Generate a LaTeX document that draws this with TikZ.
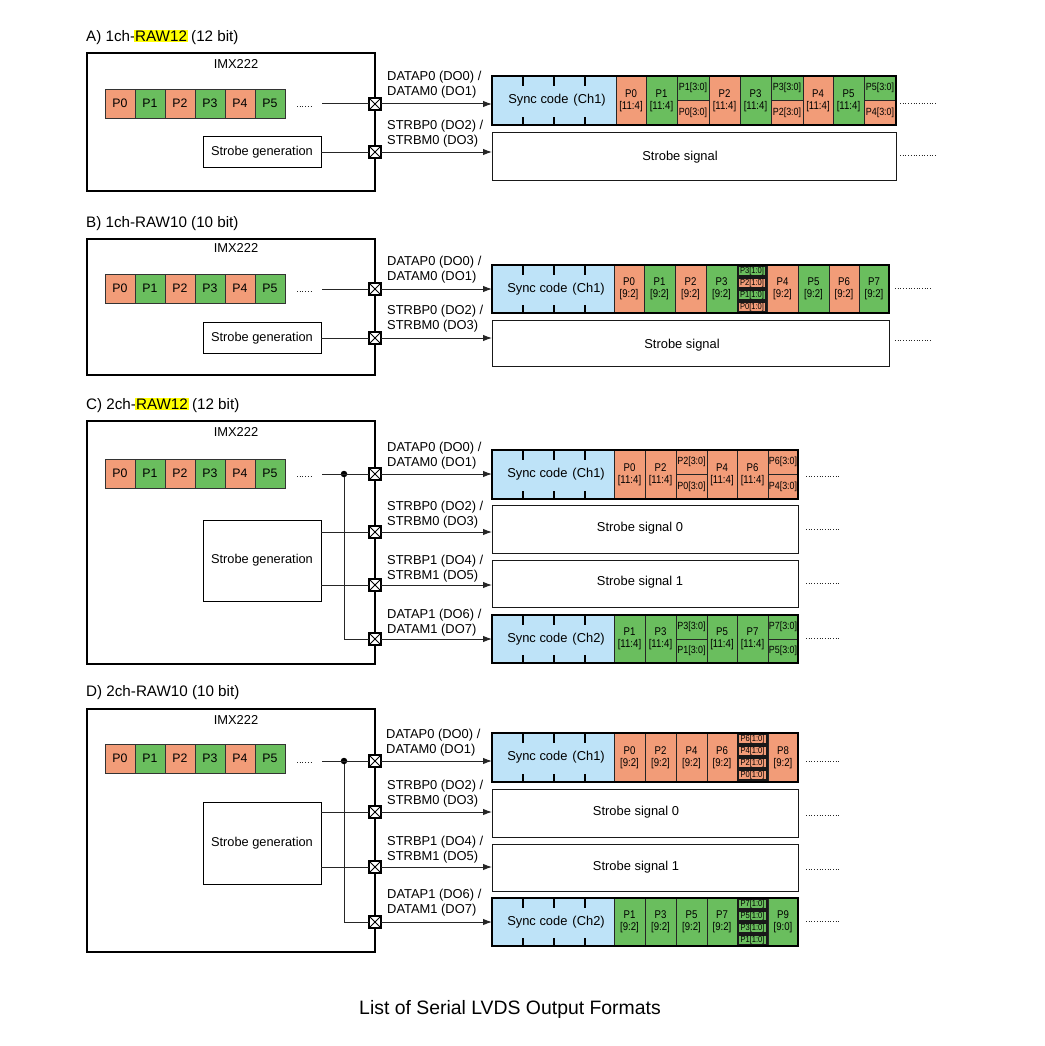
\documentclass[tikz,border=0pt]{standalone}
\usepackage{fontspec}
\setmainfont{Liberation Sans}
\newfontfamily\narf[FakeStretch=0.86]{Liberation Sans}
\usetikzlibrary{arrows.meta}
\definecolor{sal}{RGB}{242,156,120}
\definecolor{grn}{RGB}{106,190,94}
\definecolor{sky}{RGB}{190,227,248}
\definecolor{hly}{RGB}{255,255,0}
\newcommand\fsz[2]{\fontsize{#1}{#2}\selectfont}
\newcommand\hlt[1]{{\fboxsep=1pt\kern-1pt\colorbox{hly}{#1}\kern-1pt}}
\tikzset{
 rect/.style={rectangle,inner sep=0pt,outer sep=0pt},
 pix/.style={rect,draw=black!80,line width=0.8pt,font=\fsz{12.3}{14}},
 cellbox/.style={rect,draw=black!85,line width=0.9pt,font=\narf\fsz{11.2}{12},align=center},
 halfcell/.style={rect,draw=black!85,line width=0.9pt,font=\narf\fsz{10.4}{11}},
 tinycell/.style={rect,draw=black!90,line width=1.4pt,font=\narf\fsz{8.8}{9}},
 framebox/.style={rect,draw=black,line width=2pt},
 imx/.style={rect,draw=black,line width=1.3pt},
 sgbox/.style={rect,draw=black,line width=1pt,font=\fsz{12.8}{15}},
 ssbox/.style={rect,draw=black!90,line width=1pt},
 txt/.style={inner sep=0pt,font=\fsz{12.9}{15}},
 sig/.style={txt,anchor=west},
 ttl/.style={inner sep=0pt,anchor=west,font=\fsz{15.2}{18}},
 wire/.style={line width=1pt,draw=black!85},
 arr/.style={wire,-{Latex[length=9pt,width=6.5pt]}},
 xbox/.style={rect,draw=black,fill=white,line width=1.3pt,minimum size=12pt,
   path picture={\draw[line width=0.8pt] (path picture bounding box.north west)--(path picture bounding box.south east) (path picture bounding box.north east)--(path picture bounding box.south west);}},
 dots/.style={line width=0.9pt,dash pattern=on 0.9pt off 1.8pt,draw=black!85},
 jdot/.style={circle,fill=black,inner sep=0pt,minimum size=6.5pt},
}
\newcommand\Rbox[7]{\node[#6,minimum width={#4pt-#2pt},minimum height={#5pt-#3pt}] (#1) at ({(#2+#4)/2},{(#3+#5)/2}) {#7};}
\newcommand\PixRow[2]{%
 \foreach \i in {0,...,5}{%
  \pgfmathsetmacro\xa{105+30*\i}\pgfmathsetmacro\xb{135+30*\i}\pgfmathsetmacro\yb{#2+29}%
  \ifodd\i\def\pc{grn}\else\def\pc{sal}\fi
  \Rbox{#1\i}{\xa}{#2}{\xb}{\yb}{pix,fill=\pc}{P\i}}}
\newcommand\SyncBox[5]{%
 \Rbox{#1}{492}{#2}{#4}{#3}{rect,fill=sky,font=\fsz{12.9}{15}}{\hspace{6pt}Sync code\hspace{5pt}(#5)}
 \foreach \tx in {523,554,585}{\draw[line width=1.6pt] (\tx,#2) -- ++(0,10) (\tx,#3) -- ++(0,-8);}}
\newcommand\CellF[8]{\Rbox{#1}{#2}{#4}{#3}{#5}{cellbox,fill=#6}{#7\\{}#8}}
\newcommand\CellS[9]{\pgfmathsetmacro\ym{(#4+#5)/2}%
 \Rbox{#1a}{#2}{#4}{#3}{\ym}{halfcell,fill=#6}{#7}%
 \Rbox{#1b}{#2}{\ym}{#3}{#5}{halfcell,fill=#8}{#9}}
\newcommand\CellQ[6]{%
 \Rbox{#1}{#2}{#4}{#3}{#5}{cellbox,fill=white}{}
 \foreach \qc/\qt [count=\k from 0] in {#6}{%
  \pgfmathsetmacro\ya{#4+0.8+12.1*\k}\pgfmathsetmacro\yz{\ya+10}%
  \pgfmathsetmacro\xa{#2+0.9}\pgfmathsetmacro\xb{#3-0.9}%
  \Rbox{#1\k}{\xa}{\ya}{\xb}{\yz}{tinycell,fill=\qc}{\qt}}}
\begin{document}
\begin{tikzpicture}[x=1pt,y=-1pt]
\useasboundingbox[fill=white] (0,0) rectangle (1044,1046);
% ================= A
\node[ttl] (tA) at (86,37) {A) 1ch-\hlt{RAW12} (12 bit)};
\Rbox{imxA}{87}{53}{375}{191}{imx}{}
\node[txt] (nA) at (236,64) {IMX222};
\PixRow{pA}{89}
\draw[dots] (297,106) -- (313,106);
\coordinate (sA) at (322,104);
\Rbox{sgA}{203}{136.5}{321}{167.5}{sgbox}{Strobe generation}
\node[xbox] (xA1) at (375,104) {};
\node[xbox] (xA2) at (375,152) {};
\draw[wire] (sA) -- (xA1.west);
\draw[wire] (xA2.west -| sgA.east) -- (xA2.west);
\node[sig] (lA1) at (387,77) {DATAP0 (DO0) /};
\node[sig] (lA2) at (387,92) {DATAM0 (DO1)};
\node[sig] (lA3) at (387,126) {STRBP0 (DO2) /};
\node[sig] (lA4) at (387,141) {STRBM0 (DO3)};
\SyncBox{syA}{76}{125}{616}{Ch1}
\CellF{cA0}{616}{646}{76}{125}{sal}{P0}{[11:4]}
\CellF{cA1}{646}{677}{76}{125}{grn}{P1}{[11:4]}
\CellS{cA2}{677}{709}{76}{125}{grn}{P1[3:0]}{sal}{P0[3:0]}
\CellF{cA3}{709}{740}{76}{125}{sal}{P2}{[11:4]}
\CellF{cA4}{740}{771}{76}{125}{grn}{P3}{[11:4]}
\CellS{cA5}{771}{803}{76}{125}{grn}{P3[3:0]}{sal}{P2[3:0]}
\CellF{cA6}{803}{833}{76}{125}{sal}{P4}{[11:4]}
\CellF{cA7}{833}{864}{76}{125}{grn}{P5}{[11:4]}
\CellS{cA8}{864}{896}{76}{125}{grn}{P5[3:0]}{sal}{P4[3:0]}
\Rbox{fA}{492}{76}{896}{125}{framebox}{}
\Rbox{ssA}{492}{133}{896}{180}{ssbox}{}
\node[txt] (ssAt) at (680,157) {Strobe signal};
\draw[arr] (xA1.east) -- (xA1.east -| fA.west);
\draw[arr] (xA2.east) -- (xA2.east -| ssA.west);
\draw[dots] (900,103) -- (936,103);
\draw[dots] (900,155) -- (936,155);
% ================= B
\node[ttl] (tB) at (86,224) {B) 1ch-RAW10 (10 bit)};
\Rbox{imxB}{87}{239}{375}{375}{imx}{}
\node[txt] (nB) at (236,248) {IMX222};
\PixRow{pB}{274}
\draw[dots] (297,291) -- (313,291);
\coordinate (sB) at (322,289);
\Rbox{sgB}{203}{322.5}{321}{353.5}{sgbox}{Strobe generation}
\node[xbox] (xB1) at (375,289) {};
\node[xbox] (xB2) at (375,338) {};
\draw[wire] (sB) -- (xB1.west);
\draw[wire] (xB2.west -| sgB.east) -- (xB2.west);
\node[sig] (lB1) at (387,262) {DATAP0 (DO0) /};
\node[sig] (lB2) at (387,277) {DATAM0 (DO1)};
\node[sig] (lB3) at (387,311) {STRBP0 (DO2) /};
\node[sig] (lB4) at (387,326) {STRBM0 (DO3)};
\SyncBox{syB}{265}{313}{614}{Ch1}
\CellF{cB0}{614}{644}{265}{313}{sal}{P0}{[9:2]}
\CellF{cB1}{644}{675}{265}{313}{grn}{P1}{[9:2]}
\CellF{cB2}{675}{706}{265}{313}{sal}{P2}{[9:2]}
\CellF{cB3}{706}{737}{265}{313}{grn}{P3}{[9:2]}
\CellQ{cB4}{737}{767}{265}{313}{grn/P3[1:0],sal/P2[1:0],grn/P1[1:0],sal/P0[1:0]}
\CellF{cB5}{767}{798}{265}{313}{sal}{P4}{[9:2]}
\CellF{cB6}{798}{829}{265}{313}{grn}{P5}{[9:2]}
\CellF{cB7}{829}{859}{265}{313}{sal}{P6}{[9:2]}
\CellF{cB8}{859}{889}{265}{313}{grn}{P7}{[9:2]}
\Rbox{fB}{492}{265}{889}{313}{framebox}{}
\Rbox{ssB}{492}{320}{889}{366}{ssbox}{}
\node[txt] (ssBt) at (682,345) {Strobe signal};
\draw[arr] (xB1.east) -- (xB1.east -| fB.west);
\draw[arr] (xB2.east) -- (xB2.east -| ssB.west);
\draw[dots] (895,288) -- (931,288);
\draw[dots] (895,340) -- (931,340);
% ================= C
\node[ttl] (tC) at (86,405) {C) 2ch-\hlt{RAW12} (12 bit)};
\Rbox{imxC}{87}{421}{375}{664}{imx}{}
\node[txt] (nC) at (236,432) {IMX222};
\PixRow{pC}{459}
\draw[dots] (297,476) -- (313,476);
\coordinate (sC) at (322,474);
\Rbox{sgC}{203}{520}{321}{601}{sgbox}{Strobe generation}
\node[xbox] (xC1) at (375,474) {};
\node[xbox] (xC2) at (375,532) {};
\node[xbox] (xC3) at (375,585) {};
\node[xbox] (xC4) at (375,639) {};
\node[jdot] (jC) at (344,474) {};
\draw[wire] (sC) -- (xC1.west);
\draw[wire] (jC) |- (xC4.west);
\draw[wire] (xC2.west -| sgC.east) -- (xC2.west);
\draw[wire] (xC3.west -| sgC.east) -- (xC3.west);
\node[sig] (lC1) at (387,448) {DATAP0 (DO0) /};
\node[sig] (lC2) at (387,463) {DATAM0 (DO1)};
\node[sig] (lC3) at (387,507) {STRBP0 (DO2) /};
\node[sig] (lC4) at (387,522) {STRBM0 (DO3)};
\node[sig] (lC5) at (387,561) {STRBP1 (DO4) /};
\node[sig] (lC6) at (387,576) {STRBM1 (DO5)};
\node[sig] (lC7) at (387,615) {DATAP1 (DO6) /};
\node[sig] (lC8) at (387,630) {DATAM1 (DO7)};
\SyncBox{syC1}{450}{499}{614}{Ch1}
\CellF{cC0}{614}{645}{450}{499}{sal}{P0}{[11:4]}
\CellF{cC1}{645}{676}{450}{499}{sal}{P2}{[11:4]}
\CellS{cC2}{676}{707}{450}{499}{sal}{P2[3:0]}{sal}{P0[3:0]}
\CellF{cC3}{707}{737}{450}{499}{sal}{P4}{[11:4]}
\CellF{cC4}{737}{768}{450}{499}{sal}{P6}{[11:4]}
\CellS{cC5}{768}{798}{450}{499}{sal}{P6[3:0]}{sal}{P4[3:0]}
\Rbox{fC1}{492}{450}{798}{499}{framebox}{}
\Rbox{ssC0}{492}{505}{798}{553}{ssbox}{}
\node[txt] (ssC0t) at (640,528) {Strobe signal 0};
\Rbox{ssC1}{492}{560}{798}{607}{ssbox}{}
\node[txt] (ssC1t) at (640,582) {Strobe signal 1};
\SyncBox{syC2}{615}{663}{614}{Ch2}
\CellF{cD0}{614}{645}{615}{663}{grn}{P1}{[11:4]}
\CellF{cD1}{645}{676}{615}{663}{grn}{P3}{[11:4]}
\CellS{cD2}{676}{707}{615}{663}{grn}{P3[3:0]}{grn}{P1[3:0]}
\CellF{cD3}{707}{737}{615}{663}{grn}{P5}{[11:4]}
\CellF{cD4}{737}{768}{615}{663}{grn}{P7}{[11:4]}
\CellS{cD5}{768}{798}{615}{663}{grn}{P7[3:0]}{grn}{P5[3:0]}
\Rbox{fC2}{492}{615}{798}{663}{framebox}{}
\draw[arr] (xC1.east) -- (xC1.east -| fC1.west);
\draw[arr] (xC2.east) -- (xC2.east -| ssC0.west);
\draw[arr] (xC3.east) -- (xC3.east -| ssC1.west);
\draw[arr] (xC4.east) -- (xC4.east -| fC2.west);
\draw[dots] (806,476) -- (841,476);
\draw[dots] (806,529) -- (841,529);
\draw[dots] (806,583) -- (841,583);
\draw[dots] (806,638) -- (841,638);
% ================= D
\node[ttl] (tD) at (86,693) {D) 2ch-RAW10 (10 bit)};
\Rbox{imxD}{87}{709}{375}{952}{imx}{}
\node[txt] (nD) at (236,720) {IMX222};
\PixRow{pD}{744}
\draw[dots] (297,762) -- (313,762);
\coordinate (sD) at (322,761);
\Rbox{sgD}{203}{802}{321}{884}{sgbox}{Strobe generation}
\node[xbox] (xD1) at (375,761) {};
\node[xbox] (xD2) at (375,812) {};
\node[xbox] (xD3) at (375,867) {};
\node[xbox] (xD4) at (375,922) {};
\node[jdot] (jD) at (344,761) {};
\draw[wire] (sD) -- (xD1.west);
\draw[wire] (jD) |- (xD4.west);
\draw[wire] (xD2.west -| sgD.east) -- (xD2.west);
\draw[wire] (xD3.west -| sgD.east) -- (xD3.west);
\node[sig] (lD1) at (386,735) {DATAP0 (DO0) /};
\node[sig] (lD2) at (386,750) {DATAM0 (DO1)};
\node[sig] (lD3) at (387,786) {STRBP0 (DO2) /};
\node[sig] (lD4) at (387,801) {STRBM0 (DO3)};
\node[sig] (lD5) at (387,842) {STRBP1 (DO4) /};
\node[sig] (lD6) at (387,857) {STRBM1 (DO5)};
\node[sig] (lD7) at (387,895) {DATAP1 (DO6) /};
\node[sig] (lD8) at (387,910) {DATAM1 (DO7)};
\SyncBox{syD1}{733}{782}{614}{Ch1}
\CellF{cE0}{614}{645}{733}{782}{sal}{P0}{[9:2]}
\CellF{cE1}{645}{676}{733}{782}{sal}{P2}{[9:2]}
\CellF{cE2}{676}{707}{733}{782}{sal}{P4}{[9:2]}
\CellF{cE3}{707}{737}{733}{782}{sal}{P6}{[9:2]}
\CellQ{cE4}{737}{768}{733}{782}{sal/P6[1:0],sal/P4[1:0],sal/P2[1:0],sal/P0[1:0]}
\CellF{cE5}{768}{798}{733}{782}{sal}{P8}{[9:2]}
\Rbox{fD1}{492}{733}{798}{782}{framebox}{}
\Rbox{ssD0}{492}{789}{798}{837}{ssbox}{}
\node[txt] (ssD0t) at (636,812) {Strobe signal 0};
\Rbox{ssD1}{492}{844}{798}{891}{ssbox}{}
\node[txt] (ssD1t) at (636,867) {Strobe signal 1};
\SyncBox{syD2}{898}{946}{614}{Ch2}
\CellF{cF0}{614}{645}{898}{946}{grn}{P1}{[9:2]}
\CellF{cF1}{645}{676}{898}{946}{grn}{P3}{[9:2]}
\CellF{cF2}{676}{707}{898}{946}{grn}{P5}{[9:2]}
\CellF{cF3}{707}{737}{898}{946}{grn}{P7}{[9:2]}
\CellQ{cF4}{737}{768}{898}{946}{grn/P7[1:0],grn/P5[1:0],grn/P3[1:0],grn/P1[1:0]}
\CellF{cF5}{768}{798}{898}{946}{grn}{P9}{[9:0]}
\Rbox{fD2}{492}{898}{798}{946}{framebox}{}
\draw[arr] (xD1.east) -- (xD1.east -| fD1.west);
\draw[arr] (xD2.east) -- (xD2.east -| ssD0.west);
\draw[arr] (xD3.east) -- (xD3.east -| ssD1.west);
\draw[arr] (xD4.east) -- (xD4.east -| fD2.west);
\draw[dots] (806,761) -- (841,761);
\draw[dots] (806,815) -- (841,815);
\draw[dots] (806,869) -- (841,869);
\draw[dots] (806,921) -- (841,921);
% ================= footer
\node[inner sep=0pt,font=\fsz{19.4}{22}] (foot) at (510,1009) {List of Serial LVDS Output Formats};
\end{tikzpicture}
\end{document}
